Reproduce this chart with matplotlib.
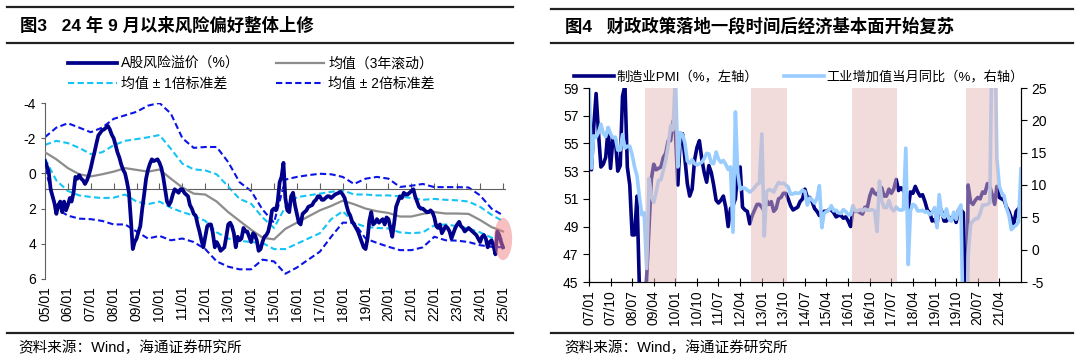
import matplotlib
matplotlib.use('Agg')
import matplotlib.pyplot as plt
import matplotlib.dates as mdates
from matplotlib.lines import Line2D
from matplotlib.patches import Ellipse
import pandas as pd

plt.rcParams['font.family'] = ['Liberation Sans', 'Noto Sans CJK SC']
plt.rcParams['axes.unicode_minus'] = False

# ---------- left chart: A-share risk premium (monthly, from 2005-01) ----------
premium_start = '2005-01-01'
risk_premium = [
    -0.7, -0.4, -0.1, 0.9, 1.3, 1.7, 2.3, 1.8, 1.6, 2.2, 1.6, 2.1,
    1.8, 1.4, 1.6, 1.1, 0.2, 0.3, 0.1, 0.3, 0.4, 0.6, 0.4, 0.1,
    -0.3, -0.8, -1.2, -1.7, -2.15, -2.3, -2.45, -2.5, -2.6, -2.7, -2.5, -2.2,
    -2.0, -1.6, -1.2, -0.9, -0.5, -0.2, 0.0, 0.5, 1.1, 2.6, 4.3, 3.9,
    3.7, 3.3, 3.0, 2.0, 1.2, 0.3, -0.2, -0.55, -0.8, -0.7, -0.75, -0.8,
    -0.6, -0.3, 0.2, 0.9, 1.6, 1.8, 1.6, 1.2, 0.9, 1.0, 1.1, 0.9,
    0.9, 1.1, 1.2, 1.3, 1.8, 2.0, 2.3, 2.4, 2.9, 3.3, 3.8, 4.2,
    3.6, 3.0, 2.9, 2.9, 3.4, 4.2, 3.9, 4.1, 4.4, 4.3, 4.2, 3.6,
    2.9, 2.8, 3.0, 3.4, 4.2, 3.6, 3.8, 3.7, 3.1, 3.3, 3.3, 3.6,
    3.9, 3.4, 3.5, 3.8, 4.4, 4.3, 3.9, 3.6, 3.5, 3.3, 2.8, 2.1,
    2.0, 2.1, 1.6, 0.5, 0.2, -0.6, 1.4, 2.1, 2.2, 1.3, 1.1, 1.8,
    2.3, 2.8, 2.9, 2.3, 2.2, 2.1, 1.9, 1.85, 1.8, 1.6, 1.5, 1.3,
    1.3, 1.5, 1.5, 1.4, 1.3, 1.3, 1.4, 1.3, 1.2, 1.15, 1.1, 1.05,
    1.2, 1.4, 1.8, 2.2, 2.4, 2.75, 2.9, 3.1, 3.3, 3.6, 3.9, 4.2,
    4.3, 3.7, 2.7, 2.2, 2.9, 2.8, 2.6, 2.8, 2.7, 2.6, 2.9, 2.5,
    2.6, 3.1, 3.6, 2.8, 1.9, 1.6, 1.3, 1.4, 1.1, 1.2, 1.2, 1.1,
    1.0, 0.9, 1.3, 1.6, 1.9, 2.0, 2.0, 2.1, 2.2, 2.2, 2.1, 2.2,
    2.5, 3.0, 3.1, 2.9, 3.4, 3.2, 3.0, 3.1, 3.3, 3.7, 3.4, 3.1,
    2.9, 2.75, 3.0, 3.1, 3.3, 3.2, 3.1, 3.2, 3.3, 3.4, 3.5, 3.7,
    3.9, 3.6, 3.5, 3.7, 4.2, 3.9, 3.8, 4.1, 4.6, 3.3, 3.5, 3.9,
    4.2,
]

# rolling mean and bands, read every half year from 2005-01
band_start = '2005-01-01'
roll_mean = [-1.2, -0.8, -0.3, 0.05, 0.17, 0.05, -0.1, -0.3, -0.2, -0.1,
             -0.22, 0.3, 0.8, 1.15, 1.2, 1.6, 2.2, 2.7, 3.2, 3.65,
             3.75, 3.15, 2.8, 2.45, 2.1, 1.85, 1.55, 1.75, 2.0, 2.15,
             2.25, 2.45, 2.45, 2.3, 2.2, 2.28, 2.28, 2.3, 2.65, 3.05, 3.3]
minus_1sd = [-1.62, -1.85, -1.72, -1.45, -1.1, -1.2, -1.6, -1.85, -1.95, -2.05,
             -2.18, -1.4, -0.55, -0.23, -0.17, 0.05, 0.75, 1.45, 1.72, 2.5,
             3.1, 1.9, 1.35, 1.25, 1.15, 1.05, 0.96, 1.2, 1.2, 1.25,
             1.25, 1.3, 1.4, 1.5, 1.45, 1.5, 1.53, 1.6, 1.9, 2.35, 2.72]
plus_1sd = [-0.83, 0.4, 1.0, 1.25, 1.34, 1.4, 1.38, 1.2, 1.6, 1.75,
            1.6, 1.95, 2.2, 2.4, 2.7, 3.35, 3.7, 3.83, 3.9, 3.95,
            4.3, 4.3, 4.0, 3.7, 3.4, 2.6, 2.15, 2.8, 3.04, 3.1,
            3.13, 3.35, 3.4, 3.35, 2.95, 2.9, 3.0, 3.13, 3.35, 3.65, 3.75]
minus_2sd = [-2.06, -2.6, -2.85, -2.6, -2.34, -2.6, -3.1, -3.3, -3.5, -3.85,
             -4.0, -3.4, -2.0, -1.45, -1.5, -1.5, -0.64, 0.5, 1.0, 2.05,
             2.8, 0.35, 0.2, 0.1, 0.02, 0.05, 0.2, 0.6, 0.3, 0.2,
             0.3, 0.77, 0.7, 0.6, 0.78, 0.78, 0.78, 0.8, 1.25, 2.0, 2.38]
plus_2sd = [-0.3, 2.0, 2.4, 2.57, 2.6, 2.7, 2.9, 2.9, 3.3, 3.7,
            3.55, 3.8, 3.7, 3.9, 4.3, 5.0, 5.3, 5.45, 5.45, 4.9,
            5.0, 5.7, 5.35, 4.9, 4.45, 3.6, 2.8, 2.8, 3.7, 3.95,
            4.17, 4.36, 4.36, 4.2, 3.6, 3.8, 3.82, 3.9, 4.08, 4.17, 4.2]

# ---------- right chart: PMI and industrial value added (monthly, from 2007-01) ----------
macro_start = '2007-01-01'
pmi = [
    55.1, 53.1, 56.1, 58.6, 55.8, 53.3, 53.5, 54.0, 56.1, 53.2, 55.4, 55.3,
    53.0, 53.4, 58.4, 59.2, 53.3, 52.0, 48.4, 48.4, 51.2, 44.6, 38.8, 41.2,
    45.3, 49.0, 52.4, 53.5, 53.1, 53.2, 53.3, 54.0, 54.3, 55.2, 55.2, 56.6,
    55.8, 52.0, 55.1, 55.7, 53.9, 52.1, 51.2, 51.7, 53.8, 54.7, 55.2, 53.9,
    52.9, 52.2, 53.4, 52.9, 52.0, 50.9, 50.7, 50.9, 51.2, 50.4, 49.0, 50.3,
    50.5, 51.0, 53.1, 53.3, 50.4, 50.2, 50.1, 49.2, 49.8, 50.2, 50.6, 50.6,
    50.4, 50.1, 50.9, 50.6, 50.8, 50.1, 50.3, 51.0, 51.1, 51.4, 51.4, 51.0,
    50.5, 50.2, 50.3, 50.4, 50.8, 51.0, 51.7, 51.1, 51.1, 50.8, 50.3, 50.1,
    49.8, 49.9, 50.1, 50.1, 50.2, 50.2, 50.0, 49.7, 49.8, 49.8, 49.6, 49.7,
    49.4, 49.0, 50.2, 50.1, 50.1, 50.0, 49.9, 50.4, 50.4, 51.2, 51.7, 51.4,
    51.3, 51.6, 51.8, 51.2, 51.2, 51.7, 51.4, 51.7, 52.4, 51.6, 51.8, 51.6,
    51.3, 50.3, 51.5, 51.4, 51.9, 51.5, 51.2, 51.3, 50.8, 50.2, 50.0, 49.4,
    49.5, 49.2, 50.5, 50.1, 49.4, 49.4, 49.7, 49.5, 49.8, 49.3, 50.2, 50.2,
    50.0, 35.7, 52.0, 50.8, 50.6, 50.9, 51.1, 51.0, 51.5, 51.4, 52.1, 51.9,
    51.3, 50.6, 51.9, 51.1, 51.0, 50.9, 50.4, 50.1, 49.6, 49.2, 50.1, 50.3,
]
iva_yoy = [
    26.0, 12.6, 17.6, 17.4, 18.1, 19.4, 18.0, 17.5, 18.9, 17.9, 17.3, 17.4,
    15.4, 15.4, 17.8, 15.7, 16.0, 16.0, 14.7, 12.8, 11.4, 8.2, 5.4, 5.7,
    -2.9, 11.0, 8.3, 7.3, 8.9, 10.7, 10.8, 12.3, 13.9, 16.1, 19.2, 18.5,
    27.0, 12.8, 18.1, 17.8, 16.5, 13.7, 13.4, 13.9, 13.3, 13.1, 13.3, 13.5,
    14.1, 14.9, 14.8, 13.4, 13.3, 15.1, 14.0, 13.5, 13.8, 13.2, 12.4, 12.8,
    2.7, 21.3, 11.9, 9.3, 9.6, 9.5, 9.2, 8.9, 9.2, 9.6, 10.1, 10.3,
    17.9, 2.1, 8.9, 9.3, 9.2, 8.9, 9.7, 10.4, 10.2, 10.3, 10.0, 9.7,
    8.6, 8.6, 8.8, 8.7, 8.8, 9.2, 9.0, 6.9, 8.0, 7.7, 7.2, 7.9,
    9.9, 3.4, 5.6, 5.9, 6.1, 6.8, 6.0, 6.1, 5.7, 5.6, 6.2, 5.9,
    5.4, 5.4, 6.8, 6.0, 6.0, 6.2, 6.0, 6.3, 6.1, 6.1, 6.2, 6.0,
    2.8, 10.6, 7.6, 6.5, 6.5, 7.6, 6.4, 6.0, 6.6, 6.2, 6.1, 6.2,
    15.7, -2.3, 6.0, 7.0, 6.8, 6.0, 6.0, 6.1, 5.8, 5.9, 5.4, 5.7,
    6.5, 3.4, 8.5, 5.4, 5.0, 6.3, 4.8, 4.4, 5.8, 4.7, 6.2, 6.9,
    -13.5, -25.9, -1.1, 3.9, 4.4, 4.8, 4.8, 5.6, 6.9, 6.9, 7.0, 7.3,
    35.1, 35.1, 14.1, 9.8, 8.8, 8.3, 6.4, 5.3, 3.1, 3.5, 3.8, 4.3,
    12.5,
]
# fiscal stimulus periods (shaded)
shade_start = ['2008-12-10', '2012-08-15', '2016-02-15', '2020-02-01']
shade_end = ['2010-01-15', '2013-11-12', '2017-09-15', '2021-03-10']

navy = '#00008B'
blue2 = '#0A14E6'
cyan = '#14C4F5'
grey = '#8C8C8C'

premium_dates = pd.date_range(premium_start, periods=len(risk_premium), freq='MS')
band_dates = pd.date_range(band_start, periods=len(roll_mean), freq='6MS')
pmi_dates = pd.date_range(macro_start, periods=len(pmi), freq='MS')
iva_dates = pd.date_range(macro_start, periods=len(iva_yoy), freq='MS')

fig = plt.figure(figsize=(10.8, 3.6), dpi=100)

# header / footer rules and texts
def rule(x0, x1, y):
    fig.add_artist(Line2D([x0 / 1080, x1 / 1080], [1 - y / 360, 1 - y / 360],
                          transform=fig.transFigure, color='#222222', lw=1.6))

for y in (7, 43, 333):
    rule(7, 513, y)
for y in (9, 43, 333):
    rule(551, 1073, y)

fig.text(20 / 1080, 1 - 25 / 360, '图3   24 年 9 月以来风险偏好整体上修',
         fontsize=12.5, fontweight='bold', va='center', ha='left')
fig.text(565 / 1080, 1 - 26 / 360, '图4   财政政策落地一段时间后经济基本面开始复苏',
         fontsize=12.5, fontweight='bold', va='center', ha='left')
fig.text(18 / 1080, 1 - 348 / 360, '资料来源：Wind，海通证券研究所', fontsize=10.5, va='center')
fig.text(564 / 1080, 1 - 348 / 360, '资料来源：Wind，海通证券研究所', fontsize=10.5, va='center')

# ---------------- left chart ----------------
axl = fig.add_axes([45 / 1080, 1 - 279 / 360, 460 / 1080, 176 / 360])
axl.plot(band_dates, plus_2sd, color=blue2, lw=1.5, ls=(0, (3, 1.6)), zorder=2)
axl.plot(band_dates, minus_2sd, color=blue2, lw=1.5, ls=(0, (3, 1.6)), zorder=2)
axl.plot(band_dates, plus_1sd, color=cyan, lw=1.5, ls=(0, (3, 1.6)), zorder=2)
axl.plot(band_dates, minus_1sd, color=cyan, lw=1.5, ls=(0, (3, 1.6)), zorder=2)
axl.plot(band_dates, roll_mean, color=grey, lw=1.6, zorder=3)
axl.plot(premium_dates, risk_premium, color=navy, lw=2.7, zorder=4)

# highlight of the latest reading
last_x = mdates.date2num(premium_dates[-1])
last_y = sum(risk_premium[-4:]) / 4
axl.add_patch(Ellipse((last_x, last_y), width=290, height=2.4, clip_on=False,
                      color='#F08080', alpha=0.5, lw=0, zorder=5))

axl.set_ylim(6, -4)
axl.set_yticks([-4, -2, 0, 2, 4, 6])
axl.set_xlim(pd.Timestamp('2005-01-01'), pd.Timestamp('2025-02-01'))
year_ticks = pd.date_range('2005-01-01', '2025-01-01', freq='YS')
axl.set_xticks(year_ticks)
axl.tick_params(axis='x', direction='in', length=4, labelbottom=False, color='#606060')
axl.tick_params(axis='y', direction='out', length=3, labelsize=10, color='#606060')
for s in ('top', 'right'):
    axl.spines[s].set_visible(False)
axl.spines['left'].set_color('#606060')
axl.spines['bottom'].set_color('#606060')
axl.spines['bottom'].set_position(('data', 0.9))

sec = axl.secondary_xaxis(0.0)
sec.set_xticks(mdates.date2num(year_ticks))
sec.set_xticklabels([d.strftime('%y/%m') for d in year_ticks], rotation=90)
sec.tick_params(length=0, pad=5, labelsize=10)
sec.spines['bottom'].set_visible(False)

left_handles = [
    Line2D([], [], color=navy, lw=2.7),
    Line2D([], [], color=cyan, lw=1.5, ls=(0, (3, 1.6))),
    Line2D([], [], color=grey, lw=1.6),
    Line2D([], [], color=blue2, lw=1.5, ls=(0, (3, 1.6))),
]
left_labels = ['A股风险溢价（%）', '均值 ± 1倍标准差', '均值（3年滚动）', '均值 ± 2倍标准差']
fig.legend(left_handles, left_labels, loc='upper left', bbox_to_anchor=(68 / 1080, 1 - 57 / 360),
           ncol=2, frameon=False, fontsize=10, handlelength=3.5, handletextpad=0.3,
           columnspacing=2.6, labelspacing=0.45, borderpad=0, borderaxespad=0)

# ---------------- right chart ----------------
axr = fig.add_axes([589 / 1080, 1 - 282 / 360, 432 / 1080, 194 / 360])
axr.plot(pmi_dates, pmi, color='#000080', lw=2.6, zorder=2)
axr.set_ylim(45, 59)
axr.set_yticks(range(45, 60, 2))
axr.set_xlim(pd.Timestamp('2007-01-01'), pd.Timestamp('2022-01-01'))
q_ticks = pd.date_range('2007-01-01', '2021-04-01', freq='9MS')
axr.set_xticks(q_ticks)
axr.set_xticklabels([d.strftime('%y/%m') for d in q_ticks], rotation=90)
axr.tick_params(axis='x', direction='inout', length=6, labelsize=10, pad=3)
axr.tick_params(axis='y', direction='out', length=4, labelsize=10)
axr.spines['top'].set_visible(False)

axr2 = axr.twinx()
axr2.plot(iva_dates, iva_yoy, color='#99CCFF', lw=2.6, zorder=2)
for a, b in zip(shade_start, shade_end):
    axr2.axvspan(pd.Timestamp(a), pd.Timestamp(b), color='#E6B9B8', alpha=0.5, lw=0, zorder=3)
axr2.set_ylim(-5, 25)
axr2.set_yticks(range(-5, 26, 5))
axr2.tick_params(axis='y', direction='out', length=4, labelsize=10)
axr2.spines['top'].set_visible(False)
axr2.set_xlim(pd.Timestamp('2007-01-01'), pd.Timestamp('2022-01-01'))

right_handles = [Line2D([], [], color='#000080', lw=2.6), Line2D([], [], color='#99CCFF', lw=2.6)]
right_labels = ['制造业PMI（%，左轴）', '工业增加值当月同比（%，右轴）']
fig.legend(right_handles, right_labels, loc='upper left', bbox_to_anchor=(574 / 1080, 1 - 71 / 360),
           ncol=2, frameon=False, fontsize=9.5, handlelength=3.0, handletextpad=0.2,
           columnspacing=2.0, borderpad=0, borderaxespad=0)

fig.savefig('out.png', dpi=100)
